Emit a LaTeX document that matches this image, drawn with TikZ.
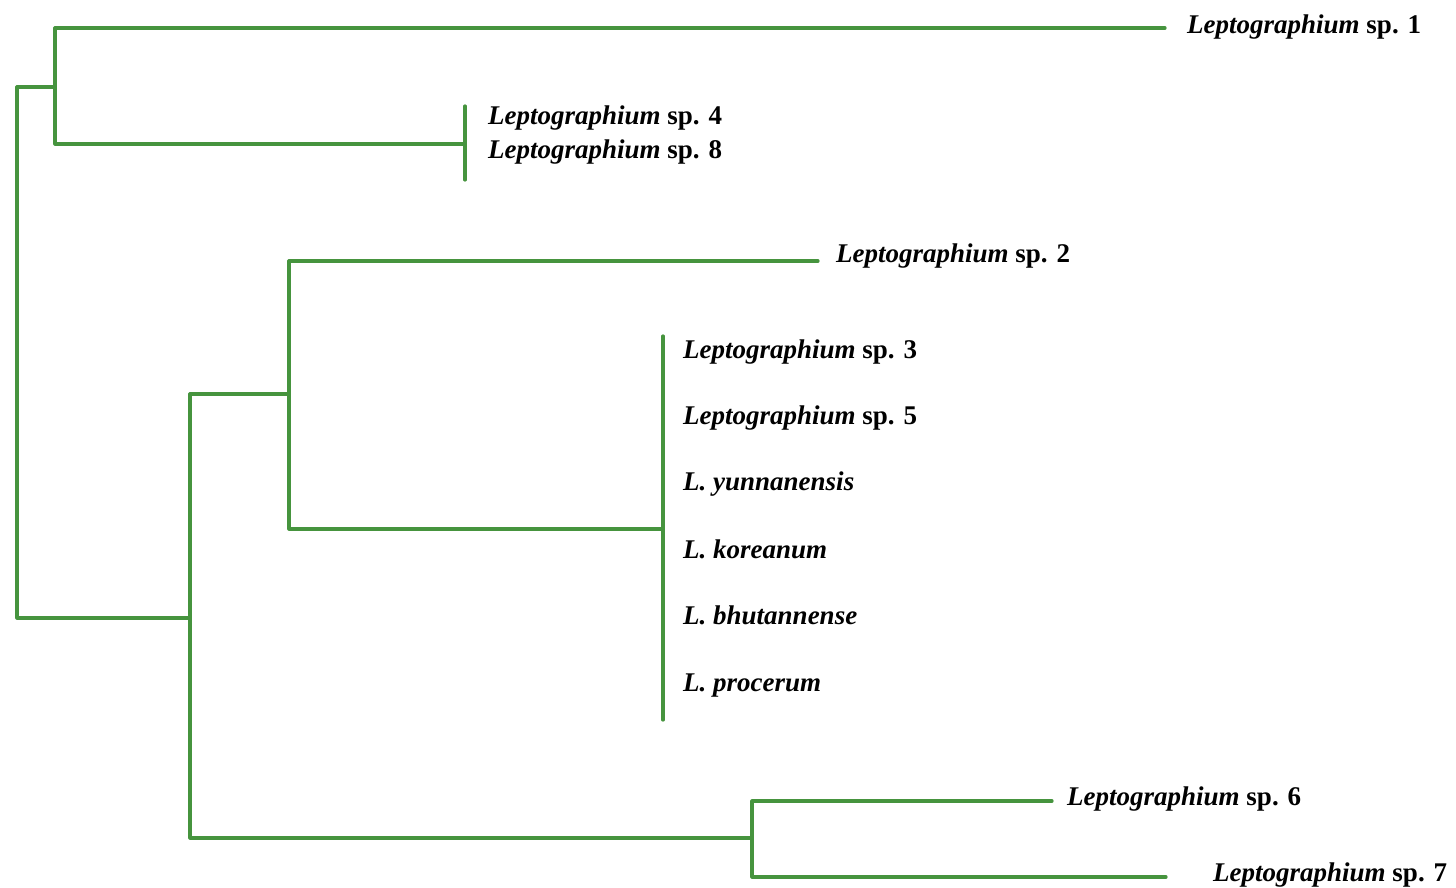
\documentclass[tikz,border=0pt]{standalone}
\usepackage{fontspec}
\setmainfont{Liberation Serif}
\definecolor{treegreen}{RGB}{70,148,62}
\begin{document}
\begin{tikzpicture}[x=1pt,y=-1pt,
  branch/.style={draw=treegreen, line width=3.2pt, line join=round, line cap=round},
  leaf/.style={anchor=west, inner sep=0pt, font=\fontsize{27}{30}\selectfont\bfseries}]
\useasboundingbox (0,0) rectangle (1456,888);
% internal nodes and branch ends
\coordinate (root) at (17,352);
\coordinate (A) at (55,87);
\coordinate (B) at (190,618);
\coordinate (C) at (289,394);
\coordinate (D) at (752,838);
\coordinate (E) at (663,529);
\coordinate (e1) at (1165,28);
\coordinate (e48) at (465,144);
\coordinate (v48t) at (465,106);
\coordinate (v48b) at (465,180);
\coordinate (e2) at (818,261);
\coordinate (vEt) at (663,336);
\coordinate (vEb) at (663,720);
\coordinate (e6) at (1052,801);
\coordinate (e7) at (1166,877);
% branches
\draw[branch] (A) -| (root) |- (B);
\draw[branch] (e1) -| (A) |- (e48);
\draw[branch] (v48t) -- (v48b);
\draw[branch] (C) -| (B) |- (D);
\draw[branch] (e2) -| (C) |- (E);
\draw[branch] (vEt) -- (vEb);
\draw[branch] (e6) -| (D) |- (e7);
% labels
\node[leaf] (l1) at (1187,27) {\textit{Leptographium} sp. 1};
\node[leaf] (l4) at (488,118) {\textit{Leptographium} sp. 4};
\node[leaf] (l8) at (488,152) {\textit{Leptographium} sp. 8};
\node[leaf] (l2) at (836,256) {\textit{Leptographium} sp. 2};
\node[leaf] (l3) at (683,352) {\textit{Leptographium} sp. 3};
\node[leaf] (l5) at (683,418) {\textit{Leptographium} sp. 5};
\node[leaf] (ly) at (683,484) {\textit{L. yunnanensis}};
\node[leaf] (lk) at (683,549) {\textit{L. koreanum}};
\node[leaf] (lb) at (683,615) {\textit{L. bhutannense}};
\node[leaf] (lp) at (683,686) {\textit{L. procerum}};
\node[leaf] (l6) at (1067,799) {\textit{Leptographium} sp. 6};
\node[leaf] (l7) at (1213,875) {\textit{Leptographium} sp. 7};
\end{tikzpicture}
\end{document}
